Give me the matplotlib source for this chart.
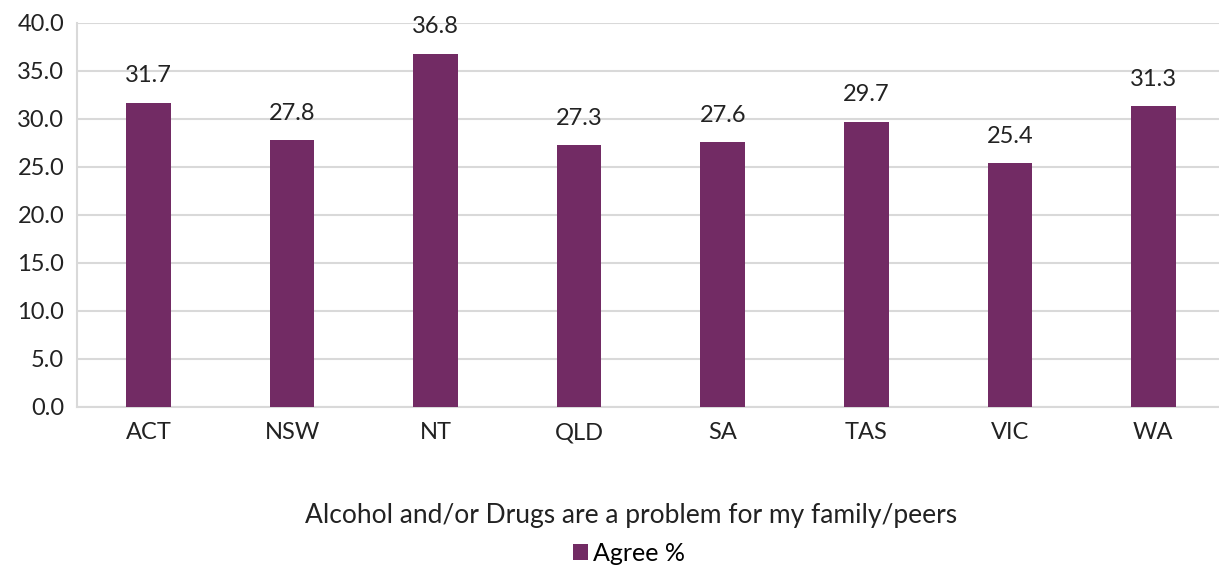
import numpy as np
import matplotlib.pyplot as plt

plt.rcParams['font.family'] = ['Lato', 'DejaVu Sans']

states = ['ACT', 'NSW', 'NT', 'QLD', 'SA', 'TAS', 'VIC', 'WA']
agree = [31.7, 27.8, 36.8, 27.3, 27.6, 29.7, 25.4, 31.3]

bar_color = '#722B64'
grid_color = '#D9D9D9'

fig = plt.figure(figsize=(12.19, 5.72), dpi=100)
ax = fig.add_axes([0.063, 0.2885, 0.942, 0.6715])

x = np.arange(len(states))
bars = ax.bar(x, agree, width=0.31, color=bar_color, label='Agree %', zorder=3)
for xi, v in zip(x, agree):
    ax.text(xi, v + 1.7, '{:.1f}'.format(v), ha='center', va='bottom',
            fontsize=17, color='#222222')

ax.set_ylim(0, 40)
ax.set_xlim(-0.5, len(states) - 0.5)
ax.set_yticks(np.arange(0, 40.1, 5))
ax.set_yticklabels(['{:.1f}'.format(t) for t in np.arange(0, 40.1, 5)])
ax.set_xticks(x)
ax.set_xticklabels(states)
ax.tick_params(axis='both', length=0, labelsize=17, colors='#222222')
ax.tick_params(axis='x', pad=11)
ax.tick_params(axis='y', pad=9)
ax.grid(axis='y', color=grid_color, linewidth=1.5, zorder=0)
for side in ['top', 'right']:
    ax.spines[side].set_visible(False)
ax.spines['left'].set_color(grid_color)
ax.spines['left'].set_linewidth(1.5)
ax.spines['bottom'].set_color(grid_color)
ax.spines['bottom'].set_linewidth(1.5)

fig.text(0.518, 0.098, 'Alcohol and/or Drugs are a problem for my family/peers',
         ha='center', va='center', fontsize=19, color='#222222')
fig.legend(handles=[bars], labels=['Agree %'], loc='center',
           bbox_to_anchor=(0.516, 0.033), frameon=False, fontsize=18,
           handlelength=0.6, handleheight=0.6, handletextpad=0.2)

fig.savefig('out.png', dpi=100)
